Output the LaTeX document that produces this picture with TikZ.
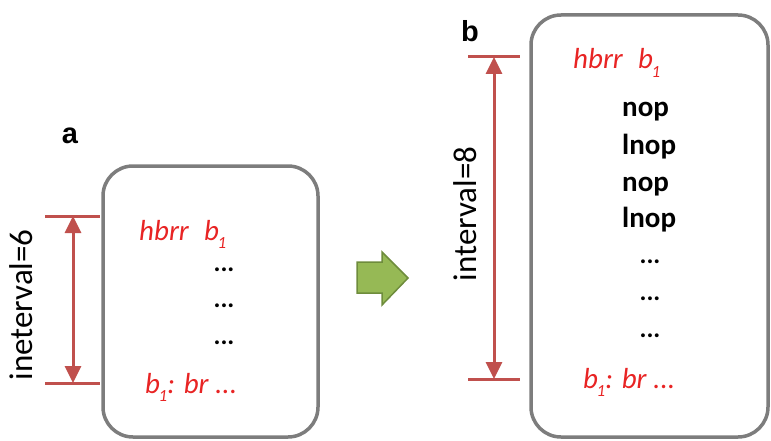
\documentclass[tikz,border=0pt]{standalone}
\usepackage{fontspec}
\setmainfont{Carlito}
\newfontfamily\labelfont{Liberation Sans}
\usetikzlibrary{arrows.meta}
\definecolor{boxgray}{RGB}{125,125,125}
\definecolor{dimred}{RGB}{192,80,77}
\definecolor{txtred}{RGB}{232,36,36}
\definecolor{arrgreen}{RGB}{150,185,85}
\definecolor{arrgreendark}{RGB}{110,140,60}
\newcommand\subone{\kern-0.05em\raisebox{-0.3em}{\fontsize{17}{17}\selectfont 1}}
\tikzset{
  codebox/.style={draw=boxgray, line width=3.5pt, rounded corners=30pt},
  redtxt/.style={text=txtred, font=\fontsize{29}{30}\selectfont\itshape, inner sep=0pt, anchor=base west},
  blktxt/.style={font=\fontsize{29}{30}\selectfont\bfseries, inner sep=0pt, anchor=base west},
  dots/.style={font=\fontsize{26}{28}\selectfont\bfseries, inner sep=0pt, anchor=base},
  sidelabel/.style={font=\fontsize{33}{35}\selectfont, rotate=90, inner sep=0pt},
  panel/.style={font=\fontsize{29}{30}\labelfont\bfseries\selectfont, inner sep=0pt},
  dimtick/.style={draw=dimred, line width=3pt},
  dimarrow/.style={draw=dimred, line width=3pt, {Triangle[length=17pt,width=16pt]}-{Triangle[length=17pt,width=16pt]}},
  bigarrow/.style={fill=arrgreen, draw=arrgreendark, line width=1.5pt, line join=miter}
}
\begin{document}
\begin{tikzpicture}[x=1pt,y=-1pt]
\useasboundingbox (0,0) rectangle (771,441);

% ---- panel a ----
\node[panel] (la) at (70,136) {a};
\draw[codebox] (103,166) rectangle (318,437);
\node[redtxt] (a1) at (139,240) {hbrr\hspace{0.3em} b\subone};
\node[dots] (a2) at (224,271) {...};
\node[dots] (a3) at (224,307) {...};
\node[dots] (a4) at (224,344) {...};
\node[redtxt] (a5) at (145,393) {b\subone: br ...};

\coordinate (at1) at (45,216);
\coordinate (at2) at (100,216);
\coordinate (ab1) at (45,383);
\coordinate (ab2) at (100,383);
\coordinate (aa1) at (73,216);
\coordinate (aa2) at (73,383);
\draw[dimtick] (at1) -- (at2);
\draw[dimtick] (ab1) -- (ab2);
\draw[dimarrow] (aa1) -- (aa2);
\node[sidelabel] (ia) at (21,305) {ineterval=6};

% ---- arrow ----
\draw[bigarrow] (357,262) -- (382,262) -- (382,252) -- (408,278) -- (382,305) -- (382,293) -- (357,293) -- cycle;

% ---- panel b ----
\node[panel] (lb) at (470,31) {b};
\draw[codebox] (531,15) rectangle (768,437);
\node[redtxt] (b1) at (573,69) {hbrr\hspace{0.3em} b\subone};
\node[blktxt] (b2) at (622,117) {nop};
\node[blktxt] (b3) at (622,154) {lnop};
\node[blktxt] (b4) at (622,191) {nop};
\node[blktxt] (b5) at (622,227) {lnop};
\node[dots] (b6) at (650,263) {...};
\node[dots] (b7) at (650,300) {...};
\node[dots] (b8) at (650,337) {...};
\node[redtxt] (b9) at (583,388) {b\subone: br ...};

\coordinate (bt1) at (468,57);
\coordinate (bt2) at (520,57);
\coordinate (bb1) at (468,379);
\coordinate (bb2) at (520,379);
\coordinate (ba1) at (494,57);
\coordinate (ba2) at (494,379);
\draw[dimtick] (bt1) -- (bt2);
\draw[dimtick] (bb1) -- (bb2);
\draw[dimarrow] (ba1) -- (ba2);
\node[sidelabel] (ib) at (465,214) {interval=8};
\end{tikzpicture}
\end{document}
